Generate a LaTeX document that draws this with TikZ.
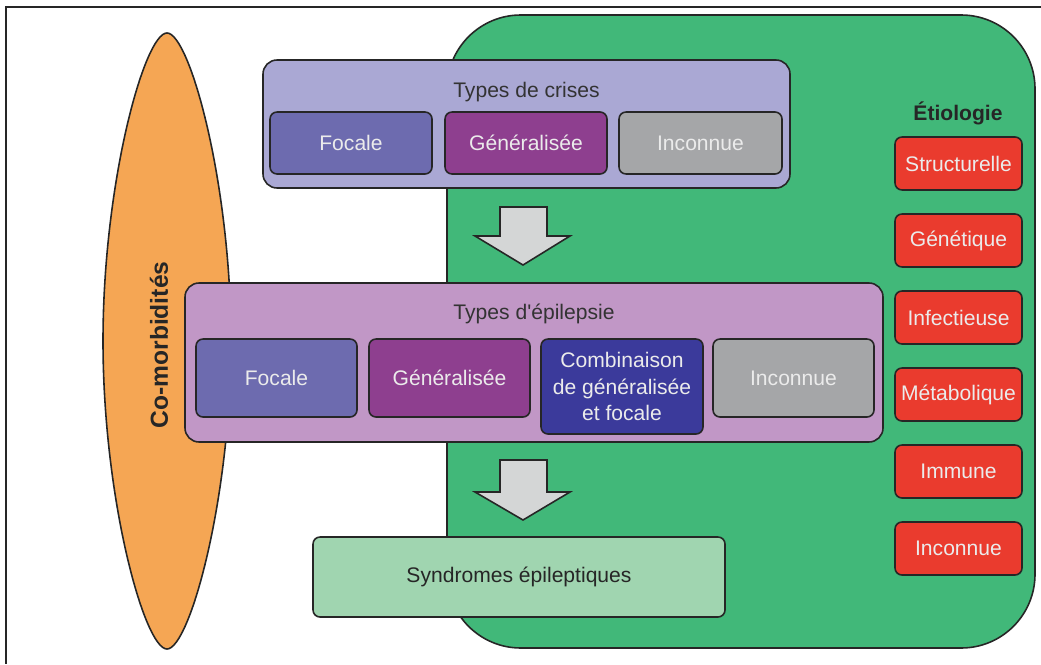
\documentclass[tikz,border=0pt]{standalone}
\usepackage{fontspec}
\setmainfont{Liberation Sans}
\definecolor{vert}{HTML}{41B879}
\definecolor{orange}{HTML}{F5A654}
\definecolor{lavande}{HTML}{AAA8D4}
\definecolor{mauve}{HTML}{C197C6}
\definecolor{bleu}{HTML}{6D6BAF}
\definecolor{violet}{HTML}{8E3F8F}
\definecolor{indigo}{HTML}{3B3A9B}
\definecolor{gris}{HTML}{A5A6A8}
\definecolor{rouge}{HTML}{EA3B2E}
\definecolor{vertclair}{HTML}{A0D5B0}
\definecolor{fleche}{HTML}{D4D6D6}
\definecolor{trait}{HTML}{262626}
\begin{document}
\begin{tikzpicture}[
  every node/.style={font=\fontsize{12}{15}\selectfont},
  bord/.style={draw=trait, line width=0.9pt},
  groupe/.style={bord, rounded corners=8pt},
  boite/.style={bord, rounded corners=4pt, text=white!92!black, align=center},
  titre/.style={text=black!80},
  etio/.style={boite, fill=rouge, minimum width=2.54cm, minimum height=1.06cm, inner sep=0pt}]
\useasboundingbox (0,0) rectangle (20.82,-13.28);
\draw[trait, line width=0.8pt] (20.82,-0.14) -- (0.12,-0.14) -- (0.12,-13.28);

\draw[bord, fill=vert, rounded corners=42pt] (8.94,-0.30) rectangle (20.70,-12.96);
\draw[bord, fill=orange] (3.34,-0.66) .. controls (3.79,-0.66) and (4.62,-3.66) .. (4.62,-6.82)
  .. controls (4.62,-9.98) and (3.79,-12.98) .. (3.34,-12.98)
  .. controls (2.89,-12.98) and (2.06,-9.98) .. (2.06,-6.82)
  .. controls (2.06,-3.66) and (2.89,-0.66) .. cycle;
\node[rotate=90, font=\fontsize{14}{16}\selectfont\bfseries, text=black!85] (comorb) at (3.18,-6.90){Co-morbidités};

\node[groupe, fill=lavande, minimum width=10.54cm, minimum height=2.56cm] (crises) at (10.53,-2.48){};
\node[titre] (crisestitre) at (10.53,-1.84){Types de crises};
\node[boite, fill=bleu, minimum width=3.24cm, minimum height=1.24cm] (cfoc) at (7.02,-2.86){Focale};
\node[boite, fill=violet, minimum width=3.24cm, minimum height=1.24cm] (cgen) at (10.52,-2.86){Généralisée};
\node[boite, fill=gris, minimum width=3.26cm, minimum height=1.24cm] (cinc) at (14.01,-2.86){Inconnue};

\draw[bord, fill=fleche] (10.0,-4.14) -- (10.94,-4.14) -- (10.94,-4.72) -- (11.40,-4.72) -- (10.46,-5.30) -- (9.50,-4.72) -- (10.0,-4.72) -- cycle;

\node[groupe, fill=mauve, minimum width=13.96cm, minimum height=3.18cm] (epi) at (10.68,-7.25){};
\node[titre] (epititre) at (10.68,-6.28){Types d\textquotesingle épilepsie};
\node[boite, fill=bleu, minimum width=3.22cm, minimum height=1.56cm] (efoc) at (5.53,-7.56){Focale};
\node[boite, fill=violet, minimum width=3.22cm, minimum height=1.56cm] (egen) at (8.99,-7.56){Généralisée};
\node[boite, fill=indigo, minimum width=3.24cm, minimum height=1.90cm, inner sep=1pt] (ecomb) at (12.44,-7.73){Combinaison\\de généralisée\\et focale};
\node[boite, fill=gris, minimum width=3.22cm, minimum height=1.56cm] (einc) at (15.87,-7.56){Inconnue};

\draw[bord, fill=fleche] (10.0,-9.20) -- (10.94,-9.20) -- (10.94,-9.84) -- (11.40,-9.84) -- (10.46,-10.40) -- (9.50,-9.84) -- (10.0,-9.84) -- cycle;

\node[bord, rounded corners=4pt, fill=vertclair, text=black!85, minimum width=8.24cm, minimum height=1.60cm] (synd) at (10.38,-11.54){Syndromes épileptiques};

\node[font=\fontsize{12}{15}\selectfont\bfseries, text=black!85] (etiotitre) at (19.16,-2.26){Étiologie};
\node[etio] (e1) at (19.17,-3.27){Structurelle};
\node[etio] (e2) at (19.17,-4.81){Génétique};
\node[etio] (e3) at (19.17,-6.35){Infectieuse};
\node[etio] (e4) at (19.17,-7.89){Métabolique};
\node[etio] (e5) at (19.17,-9.43){Immune};
\node[etio] (e6) at (19.17,-10.97){Inconnue};

\end{tikzpicture}
\end{document}
